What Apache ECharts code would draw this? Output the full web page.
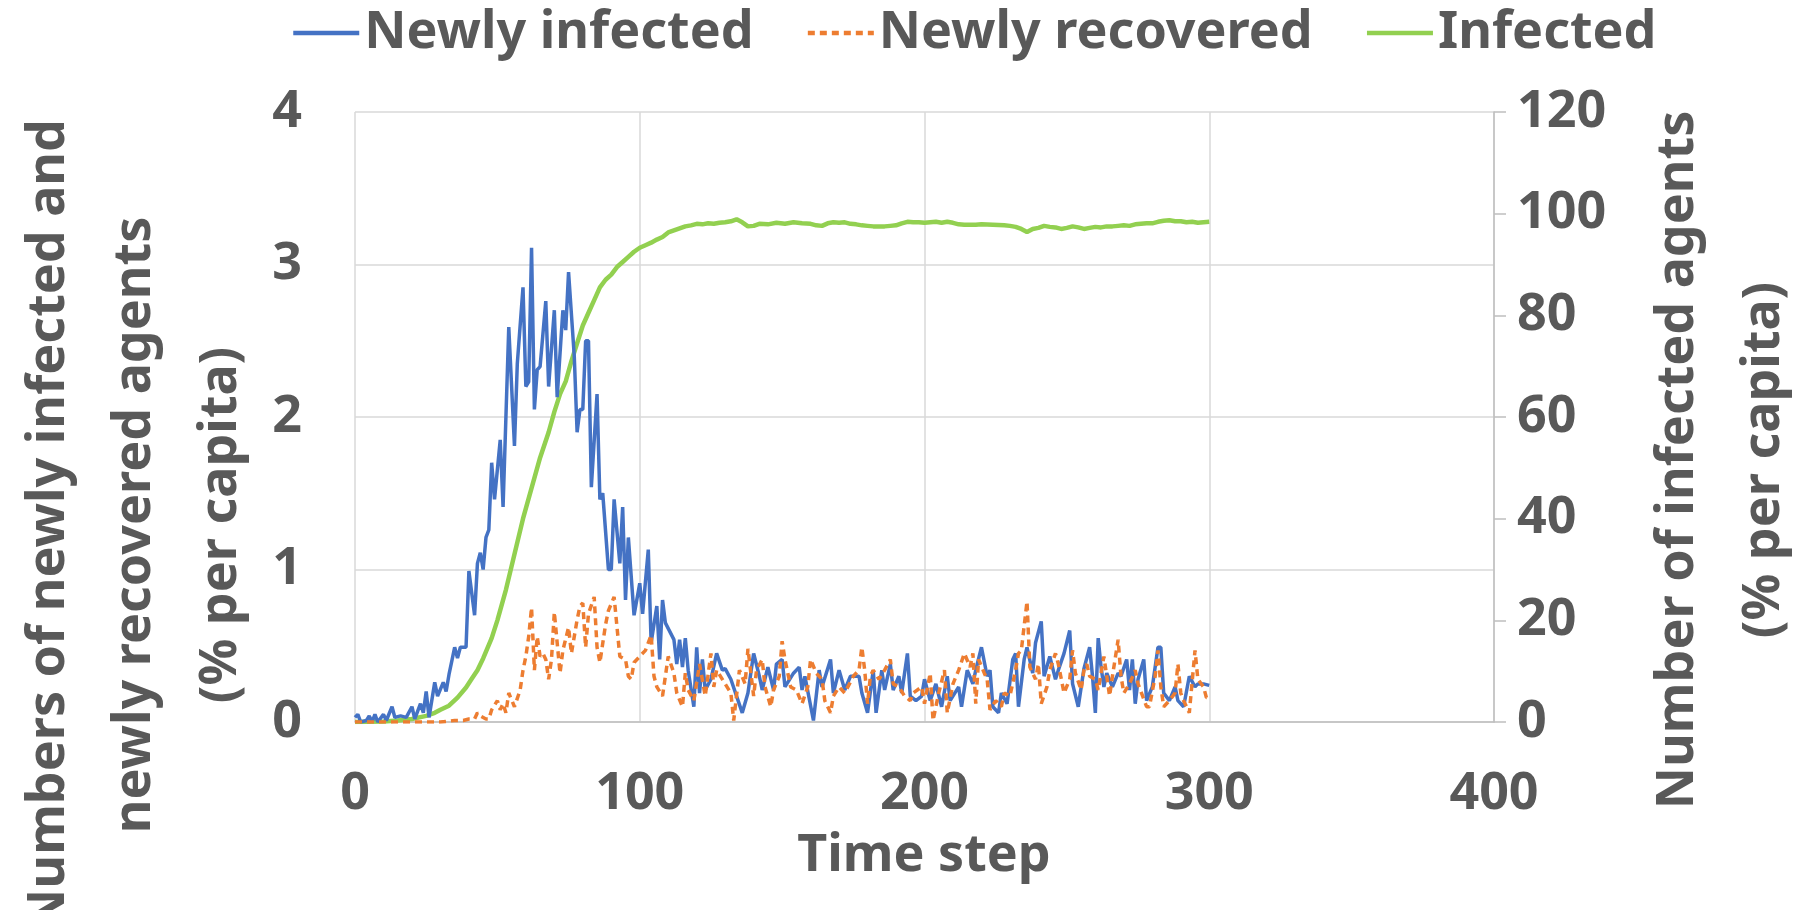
<!DOCTYPE html>
<html>
<head>
<meta charset="utf-8">
<script src="https://cdn.jsdelivr.net/npm/echarts@6/dist/echarts.min.js"></script>
<style>
  html, body { margin: 0; padding: 0; background: #ffffff; }
  #chart { width: 1808px; height: 910px; }
</style>
</head>
<body>
<div id="chart"></div>
<script>
// [time step, % per capita]
const newlyInfected = [
  [0,0.03],[1,0.05],[2,0],[4,0.01],[5,0.04],[6,0],[7,0.05],[8,0],[10,0.05],[11,0.01],[13,0.1],[14,0.03],
  [16,0.04],[18,0.03],[20,0.1],[21,0.02],[23,0.12],[24,0.06],[25,0.2],[26,0.03],[28,0.26],[29,0.17],
  [31,0.26],[32,0.2],[33,0.31],[35,0.49],[36,0.42],[37,0.49],[38,0.49],[39,0.49],[40,0.99],[42,0.7],
  [43,1.04],[44,1.11],[45,1.0],[46,1.21],[47,1.26],[48,1.7],[49,1.46],[51,1.85],[52,1.41],[54,2.59],
  [56,1.81],[57,2.35],[59,2.85],[60,2.2],[61,2.23],[62,3.11],[63,2.05],[64,2.31],[65,2.33],[67,2.76],
  [68,2.2],[70,2.7],[71,2.13],[73,2.7],[74,2.57],[75,2.95],[77,2.4],[78,1.9],[79,2.05],[80,2.05],
  [81,2.5],[82,2.5],[83,1.54],[85,2.15],[86,1.46],[87,1.5],[89,1.0],[90,1.0],[91,1.46],[93,1.04],
  [94,1.41],[95,0.8],[96,1.21],[98,0.7],[100,0.91],[101,0.71],[103,1.13],[104,0.52],[106,0.76],
  [107,0.41],[108,0.8],[109,0.65],[112,0.54],[113,0.38],[114,0.54],[115,0.36],[116,0.55],[117,0.34],
  [119,0.1],[120,0.49],[121,0.19],[122,0.41],[123,0.21],[125,0.28],[127,0.45],[129,0.34],[130,0.35],
  [132,0.28],[134,0.17],[136,0.06],[138,0.19],[140,0.45],[142,0.3],[143,0.21],[145,0.36],[147,0.21],
  [148,0.38],[150,0.41],[151,0.23],[154,0.32],[156,0.36],[157,0.21],[158,0.3],[161,0.01],[163,0.34],
  [164,0.23],[167,0.41],[168,0.19],[170,0.34],[172,0.21],[174,0.3],[177,0.3],[178,0.19],[180,0.06],
  [182,0.34],[183,0.06],[185,0.34],[186,0.21],[188,0.38],[189,0.21],[191,0.3],[192,0.19],[194,0.45],
  [195,0.17],[197,0.14],[199,0.17],[200,0.28],[202,0.14],[204,0.25],[206,0.1],[208,0.3],[209,0.14],
  [212,0.23],[213,0.1],[215,0.34],[217,0.25],[218,0.34],[220,0.49],[222,0.3],[223,0.34],[224,0.1],
  [226,0.06],[227,0.19],[229,0.12],[231,0.41],[232,0.45],[233,0.1],[235,0.41],[236,0.49],[238,0.32],
  [239,0.52],[241,0.66],[242,0.3],[244,0.43],[246,0.28],[247,0.34],[249,0.45],[251,0.6],[252,0.25],
  [254,0.1],[256,0.35],[258,0.49],[259,0.3],[260,0.06],[261,0.55],[262,0.36],[263,0.23],[264,0.32],
  [266,0.23],[268,0.32],[269,0.3],[271,0.41],[272,0.21],[273,0.41],[274,0.12],[275,0.28],[277,0.41],
  [278,0.14],[280,0.23],[282,0.49],[283,0.49],[284,0.19],[286,0.14],[288,0.23],[289,0.14],[291,0.1],
  [293,0.3],[295,0.23],[296,0.25],[298,0.25],[300,0.24]
];

const newlyRecovered = [
  [0,0],[10,0],[20,0],[30,0],[35,0.01],[38,0.01],[40,0.02],[42,0.02],[43,0.06],[44,0.04],[46,0.02],
  [47,0.02],[48,0.08],[50,0.14],[51,0.08],[52,0.12],[53,0.06],[54,0.19],[56,0.1],[58,0.21],[59,0.34],
  [60,0.43],[61,0.56],[62,0.75],[63,0.34],[64,0.56],[65,0.43],[66,0.45],[67,0.41],[68,0.28],[69,0.41],
  [70,0.72],[72,0.32],[73,0.47],[75,0.62],[76,0.45],[78,0.67],[79,0.76],[80,0.78],[81,0.49],[82,0.71],
  [84,0.82],[85,0.49],[86,0.39],[88,0.64],[89,0.73],[91,0.82],[93,0.43],[95,0.41],[96,0.3],[97,0.28],
  [98,0.39],[100,0.43],[102,0.47],[104,0.57],[105,0.3],[106,0.23],[108,0.17],[110,0.43],[112,0.32],
  [113,0.19],[115,0.1],[116,0.32],[117,0.21],[119,0.14],[121,0.38],[123,0.17],[125,0.45],[126,0.23],
  [127,0.34],[130,0.25],[132,0.19],[133,0.01],[135,0.34],[137,0.25],[138,0.48],[140,0.17],[141,0.34],
  [143,0.41],[144,0.23],[146,0.1],[147,0.21],[149,0.3],[150,0.53],[151,0.41],[153,0.23],[155,0.21],
  [157,0.12],[159,0.23],[160,0.41],[162,0.32],[164,0.28],[165,0.14],[167,0.06],[168,0.17],[170,0.23],
  [172,0.19],[175,0.3],[177,0.34],[178,0.49],[179,0.34],[180,0.12],[181,0.3],[182,0.34],[184,0.28],
  [186,0.34],[188,0.41],[189,0.25],[191,0.23],[193,0.17],[195,0.14],[196,0.19],[199,0.23],[200,0.12],
  [202,0.32],[203,0.01],[205,0.19],[207,0.34],[208,0.06],[210,0.25],[212,0.34],[214,0.45],[216,0.36],
  [217,0.45],[218,0.12],[219,0.41],[221,0.32],[222,0.28],[223,0.08],[225,0.14],[227,0.1],[228,0.19],
  [230,0.17],[232,0.34],[233,0.45],[234,0.47],[236,0.79],[237,0.36],[239,0.28],[240,0.38],[241,0.12],
  [243,0.23],[244,0.34],[246,0.45],[247,0.38],[249,0.19],[251,0.28],[252,0.47],[253,0.32],[255,0.21],
  [256,0.34],[257,0.38],[258,0.3],[260,0.28],[261,0.21],[263,0.43],[265,0.17],[266,0.3],[268,0.54],
  [269,0.3],[270,0.19],[272,0.25],[274,0.34],[275,0.25],[278,0.1],[279,0.1],[281,0.3],[282,0.47],
  [283,0.23],[284,0.1],[286,0.14],[288,0.19],[289,0.38],[290,0.19],[291,0.14],[293,0.06],[295,0.47],
  [296,0.28],[298,0.23],[299,0.16],[300,0.16]
];

const infected = [
  [0,0],[10,0.1],[15,0.3],[20,0.6],[25,1.2],[28,1.8],[30,2.4],[33,3.2],[36,4.8],[39,6.8],[41,8.5],
  [43,10.2],[45,12.5],[48,16.5],[50,20],[53,26],[56,33],[59,40],[62,46],[65,52],[68,57],[70,61],
  [72,64.5],[74,67],[76,71],[78,74.5],[80,78],[82,80.5],[84,83],[86,85.5],[88,87],[90,88],[92,89.5],
  [94,90.5],[96,91.5],[98,92.5],[100,93.3],[102,93.8],[104,94.3],[106,94.9],[108,95.4],[110,96.3],
  [112,96.7],[114,97.1],[116,97.5],[118,97.7],[120,98],[122,97.9],[124,98.1],[126,98],[128,98.2],
  [130,98.3],[132,98.5],[134,98.9],[136,98.3],[138,97.5],[140,97.6],[142,98],[145,97.9],[148,98.2],
  [151,98],[154,98.3],[157,98.1],[160,98],[162,97.7],[164,97.6],[166,98.1],[168,98.3],[170,98.2],
  [172,98.3],[174,98],[176,97.9],[178,97.7],[180,97.6],[182,97.5],[186,97.5],[188,97.6],[190,97.7],
  [192,98.1],[194,98.4],[196,98.3],[198,98.3],[200,98.2],[202,98.3],[204,98.4],[206,98.2],[208,98.4],
  [210,98.2],[212,97.9],[214,97.8],[218,97.8],[220,97.9],[224,97.8],[228,97.7],[230,97.6],[232,97.4],
  [234,97],[236,96.4],[238,97],[240,97.2],[242,97.6],[244,97.4],[246,97.3],[248,97],[250,97.2],
  [252,97.5],[254,97.3],[256,97],[258,97.2],[260,97.4],[262,97.3],[264,97.5],[266,97.5],[268,97.6],
  [270,97.7],[272,97.6],[274,97.9],[276,98],[278,98.1],[280,98.1],[282,98.4],[284,98.6],[286,98.7],
  [288,98.5],[290,98.5],[292,98.3],[294,98.4],[296,98.2],[298,98.3],[300,98.4]
];

const legendNames = ['Newly infected', 'Newly recovered', 'Infected'];

const textColor = '#595959';
const fontFamily = '"Noto Sans", sans-serif';
const fontSize = 52;

let myChart = echarts.init(document.getElementById('chart'));

var option = {
  backgroundColor: '#ffffff',
  animation: false,
  textStyle: { fontFamily: fontFamily, color: textColor },
  legend: {
    data: legendNames,
    top: 2,
    left: 286,
    itemWidth: 66,
    itemHeight: 14,
    itemGap: 52,
    // hide the marker dot, keep the line sample
    itemStyle: { color: 'rgba(0,0,0,0)', borderWidth: 0, opacity: 0 },
    lineStyle: { width: 4.5 },
    textStyle: { fontSize: fontSize, fontWeight: 'bold', color: textColor, fontFamily: fontFamily }
  },
  grid: { left: 355, right: 314, top: 112, bottom: 188, containLabel: false },
  xAxis: {
    type: 'value',
    min: 0,
    max: 400,
    interval: 100,
    axisLine: { show: true, lineStyle: { color: '#bfbfbf', width: 1.5 } },
    axisTick: { show: false },
    splitLine: { show: true, lineStyle: { color: '#d9d9d9', width: 1.5 } },
    axisLabel: { fontSize: fontSize, fontWeight: 'bold', color: textColor, margin: 46 }
  },
  yAxis: [
    {
      type: 'value',
      min: 0,
      max: 4,
      interval: 1,
      axisLine: { show: false },
      axisTick: { show: false },
      splitLine: { show: true, lineStyle: { color: '#d9d9d9', width: 1.5 } },
      axisLabel: { fontSize: fontSize, fontWeight: 'bold', color: textColor, margin: 53 }
    },
    {
      type: 'value',
      min: 0,
      max: 120,
      interval: 20,
      position: 'right',
      axisLine: { show: true, lineStyle: { color: '#bfbfbf', width: 1.5 } },
      axisTick: { show: true, length: 12, lineStyle: { color: '#bfbfbf', width: 1.5 } },
      splitLine: { show: false },
      axisLabel: { fontSize: fontSize, fontWeight: 'bold', color: textColor, margin: 23 }
    }
  ],
  graphic: [
    {
      type: 'text',
      x: 135, y: 525,
      rotation: Math.PI / 2,
      style: {
        text: 'Numbers of newly infected and\nnewly recovered agents\n(% per capita)',
        fontSize: fontSize, fontWeight: 'bold', fontFamily: fontFamily, fill: textColor,
        align: 'center', verticalAlign: 'middle', lineHeight: 86
      }
    },
    {
      type: 'text',
      x: 1721, y: 460,
      rotation: Math.PI / 2,
      style: {
        text: 'Number of infected agents\n(% per capita)',
        fontSize: fontSize, fontWeight: 'bold', fontFamily: fontFamily, fill: textColor,
        align: 'center', verticalAlign: 'middle', lineHeight: 86
      }
    },
    {
      type: 'text',
      x: 924, y: 856,
      style: {
        text: 'Time step',
        fontSize: fontSize, fontWeight: 'bold', fontFamily: fontFamily, fill: textColor,
        align: 'center', verticalAlign: 'middle'
      }
    }
  ],
  series: [
    {
      name: 'Infected',
      type: 'line',
      yAxisIndex: 1,
      data: infected,
      showSymbol: false,
      symbol: 'none',
      z: 2,
      lineStyle: { color: '#92D050', width: 4.5 },
      itemStyle: { color: '#92D050' }
    },
    {
      name: 'Newly infected',
      type: 'line',
      yAxisIndex: 0,
      data: newlyInfected,
      showSymbol: false,
      symbol: 'none',
      z: 3,
      lineStyle: { color: '#4472C4', width: 3.5 },
      itemStyle: { color: '#4472C4' }
    },
    {
      name: 'Newly recovered',
      type: 'line',
      yAxisIndex: 0,
      data: newlyRecovered,
      showSymbol: false,
      symbol: 'none',
      z: 4,
      lineStyle: { color: '#ED7D31', width: 3.5, type: [7, 5] },
      itemStyle: { color: '#ED7D31' }
    }
  ]
};

myChart.setOption(option);
</script>
</body>
</html>
